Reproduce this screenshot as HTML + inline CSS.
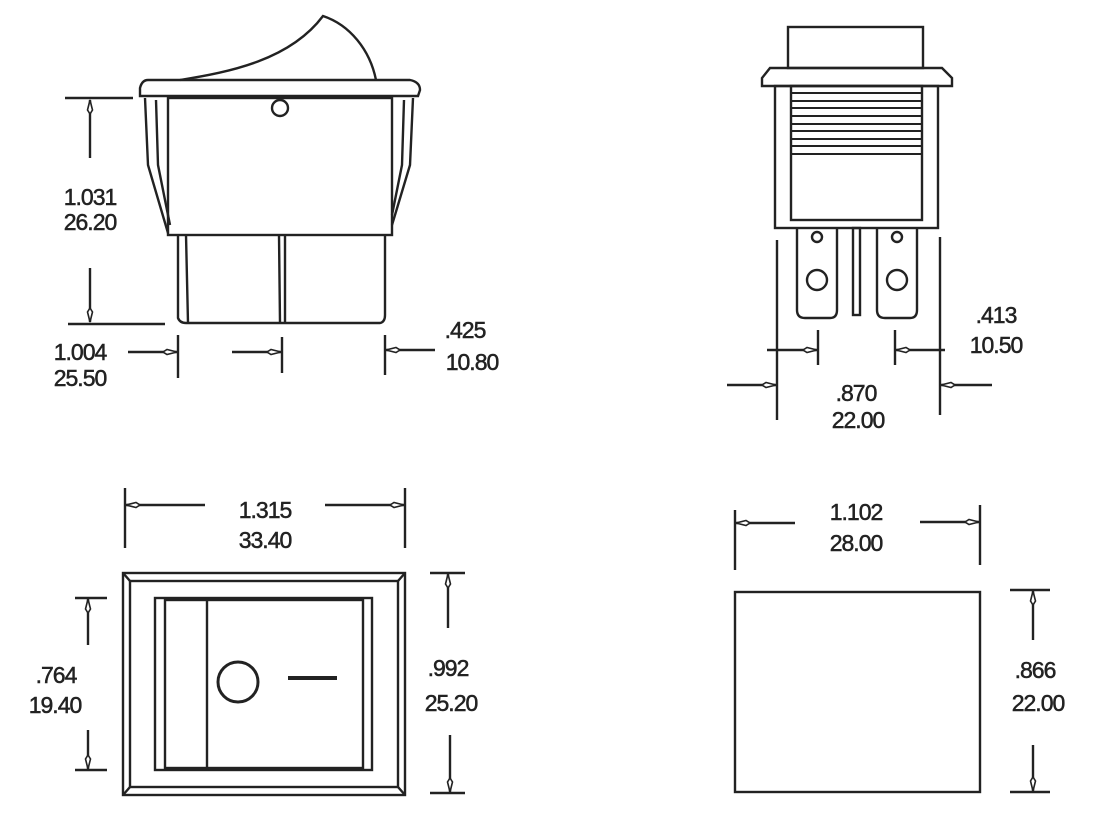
<!DOCTYPE html>
<html><head><meta charset="utf-8"><style>
html,body{margin:0;padding:0;background:#fff}
svg{display:block}
text{font-family:"Liberation Sans",sans-serif;font-size:23px;fill:#222;stroke:#222;stroke-width:0.5;text-anchor:middle;letter-spacing:-1px}
</style></head><body>
<svg width="1100" height="827" viewBox="0 0 1100 827" xmlns="http://www.w3.org/2000/svg">
<defs>
<marker id="a" viewBox="0 0 16 8" refX="15" refY="4" markerWidth="16" markerHeight="8" markerUnits="userSpaceOnUse" orient="auto">
<path d="M1,4 L5,1.5 L15,4 L5,6.5 Z" fill="#fff" stroke="#222" stroke-width="1.6"/>
</marker>
</defs>
<g fill="none" stroke="#222" stroke-width="2.4">
<path d="M180,80 C230,72 290,60 323,16 C350,25 370,50 376,80"/>
<path d="M148,80 L410,80 Q420,82 420,90 L418,96 L140,96 L140,88 Q142,80 148,80 Z"/>
<rect x="168" y="98" width="224" height="137"/>
<circle cx="280" cy="108" r="8"/>
<path d="M145,98 L148,165 L168,233 M156,100 L158,165 L170,225"/>
<path d="M413,98 L410,165 L392,225 M404,100 L402,165 L392,215"/>
<path d="M178,235 L178,318 Q180,323 186,323 L380,323 Q385,322 385,315 L385,235"/>
<path d="M186,235 L188,323 M279,235 L280,323 M285,235 L285,323"/>
<path d="M65,98 L133,98 M68,324 L165,324"/>
<path d="M90,158 L90,100" marker-end="url(#a)"/>
<path d="M90,268 L90,322" marker-end="url(#a)"/>
<path d="M178,335 L178,378 M282,337 L282,373 M385,335 L385,375"/>
<path d="M128,352 L177,352" marker-end="url(#a)"/>
<path d="M232,352 L281,352" marker-end="url(#a)"/>
<path d="M435,350 L386,350" marker-end="url(#a)"/>
<rect x="788" y="27" width="135" height="41"/>
<path d="M770,68 L942,68 L952,78 L952,86 L762,86 L762,78 Z"/>
<rect x="775" y="86" width="163" height="142"/>
<rect x="791" y="86" width="131" height="134"/>
<path d="M791,93 L922,93 M791,101 L922,101 M791,108 L922,108 M791,116 L922,116 M791,124 L922,124 M791,131 L922,131 M791,139 L922,139 M791,146 L922,146 M791,154 L922,154" stroke-width="2"/>
<path d="M797,228 L797,310 Q797,318 805,318 L830,318 Q837,318 837,310 L837,228"/>
<path d="M877,228 L877,310 Q877,318 885,318 L910,318 Q917,318 917,310 L917,228"/>
<rect x="853" y="228" width="7" height="87"/>
<circle cx="817" cy="237" r="5"/><circle cx="817" cy="280" r="10"/>
<circle cx="897" cy="237" r="5"/><circle cx="897" cy="280" r="10"/>
<path d="M777,240 L777,420 M940,237 L940,415 M818,330 L818,365 M895,330 L895,365"/>
<path d="M767,350 L817,350" marker-end="url(#a)"/>
<path d="M945,350 L896,350" marker-end="url(#a)"/>
<path d="M727,385 L776,385" marker-end="url(#a)"/>
<path d="M992,385 L941,385" marker-end="url(#a)"/>
<rect x="123" y="573" width="282" height="222"/>
<rect x="130" y="581" width="268" height="206"/>
<path d="M123,573 L130,581 M405,573 L398,581 M123,795 L130,787 M405,795 L398,787"/>
<rect x="155" y="598" width="217" height="172"/>
<rect x="165" y="600" width="198" height="168"/>
<path d="M207,598 L207,770"/>
<circle cx="238" cy="682" r="20" stroke-width="3"/>
<path d="M288,678 L337,678" stroke-width="4"/>
<path d="M125,488 L125,548 M405,488 L405,548"/>
<path d="M205,505 L126,505" marker-end="url(#a)"/>
<path d="M325,505 L404,505" marker-end="url(#a)"/>
<path d="M75,598 L107,598 M75,770 L107,770"/>
<path d="M88,645 L88,599" marker-end="url(#a)"/>
<path d="M88,730 L88,769" marker-end="url(#a)"/>
<path d="M430,573 L465,573 M430,793 L465,793"/>
<path d="M448,628 L448,574" marker-end="url(#a)"/>
<path d="M450,735 L450,792" marker-end="url(#a)"/>
<rect x="735" y="592" width="245" height="200"/>
<path d="M735,510 L735,570 M980,505 L980,565"/>
<path d="M795,523 L736,523" marker-end="url(#a)"/>
<path d="M920,522 L979,522" marker-end="url(#a)"/>
<path d="M1010,590 L1050,590 M1010,792 L1050,792"/>
<path d="M1033,640 L1033,591" marker-end="url(#a)"/>
<path d="M1033,745 L1033,791" marker-end="url(#a)"/>
</g>
<text x="90" y="205">1.031</text><text x="90" y="230">26.20</text>
<text x="80" y="360">1.004</text><text x="80" y="386">25.50</text>
<text x="465" y="338">.425</text><text x="472" y="370">10.80</text>
<text x="996" y="323">.413</text><text x="996" y="353">10.50</text>
<text x="856" y="401">.870</text><text x="858" y="428">22.00</text>
<text x="265" y="518">1.315</text><text x="265" y="548">33.40</text>
<text x="56" y="683">.764</text><text x="55" y="713">19.40</text>
<text x="448" y="676">.992</text><text x="451" y="711">25.20</text>
<text x="856" y="520">1.102</text><text x="856" y="551">28.00</text>
<text x="1035" y="678">.866</text><text x="1038" y="711">22.00</text>
</svg>
</body></html>
